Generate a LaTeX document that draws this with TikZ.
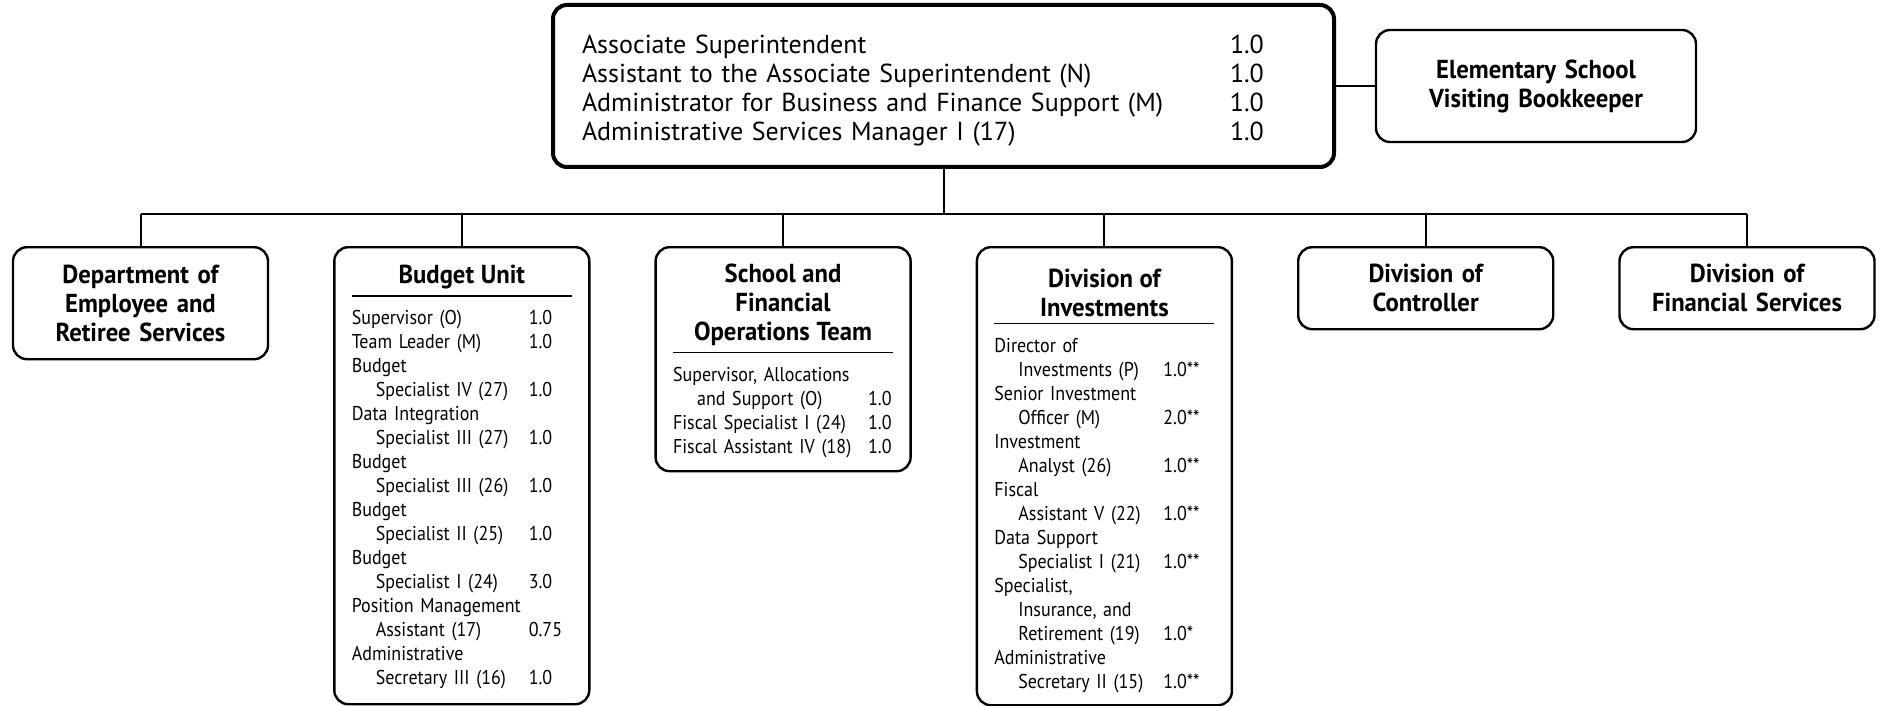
\documentclass[tikz,border=0pt]{standalone}
\usepackage{fontspec}
\setmainfont{PT Sans}
\newfontfamily\listfont{PT Sans}[FakeStretch=0.9]
\newfontfamily\titlefont{PT Sans}[FakeStretch=0.95]
\newlength{\numcol}
\newcommand{\post}[2]{\makebox[\numcol][l]{#1}#2\par}
\newcommand{\subpost}[2]{\makebox[\numcol][l]{\hspace*{12pt}#1}#2\par}
\newcommand{\unithead}[2][-3.6pt]{\par\vspace*{#1}{\centering\titlefont\bfseries\fontsize{13}{14.5}\selectfont #2\par}\vspace{3pt}\hrule height 0.6pt\vspace{7pt}}
\begin{document}
\begin{tikzpicture}[
    x=0.5pt, y=-0.5pt,
    head/.style={draw, line width=2pt, rounded corners=7pt, inner xsep=14.5pt, text width=361.5pt, minimum height=81pt, align=left, font=\fontsize{13}{14.5}\selectfont},
    box/.style={draw, line width=1.2pt, rounded corners=7pt, inner xsep=8.75pt, text width=#1, align=center, font=\titlefont\bfseries\fontsize{13}{14.5}\selectfont},
    box/.default=110pt,
    unit/.style={draw, line width=1.2pt, rounded corners=7pt, anchor=north, inner xsep=8.75pt, text width=110pt, align=left, font=\listfont\fontsize{10}{12}\selectfont},
    link/.style={line width=1pt}
]
\useasboundingbox (0,0) rectangle (1881,706);

% Top office
\node[head] (assoc) at (943.5,86) {\par\vspace*{-1pt}\setlength{\numcol}{324pt}%
\post{Associate Superintendent}{1.0}
\post{Assistant to the Associate Superintendent (N)}{1.0}
\post{Administrator for Business and Finance Support (M)}{1.0}
\post{Administrative Services Manager I (17)}{1.0}};
\node[box=142.5pt, minimum height=56pt] (bookkeeper) at (1536,86) {Elementary School\\Visiting Bookkeeper};

\coordinate (bus) at (0,214);

% Units
\node[box, minimum height=56pt, anchor=north] (retiree) at (140.5,246) {Department of\\Employee and\\Retiree Services};

\node[unit, minimum height=228.5pt] (budget) at (461.8,246) {\setlength{\numcol}{88.5pt}%
\unithead{Budget Unit}
\post{Supervisor (O)}{1.0}
\post{Team Leader (M)}{1.0}
\post{Budget}{}
\subpost{Specialist IV (27)}{1.0}
\post{Data Integration}{}
\subpost{Specialist III (27)}{1.0}
\post{Budget}{}
\subpost{Specialist III (26)}{1.0}
\post{Budget}{}
\subpost{Specialist II (25)}{1.0}
\post{Budget}{}
\subpost{Specialist I (24)}{3.0}
\post{Position Management}{}
\subpost{Assistant (17)}{0.75}
\post{Administrative}{}
\subpost{Secretary III (16)}{1.0}};

\node[unit, minimum height=112pt] (schoolops) at (783.1,246) {\setlength{\numcol}{97.5pt}%
\unithead{School and\\Financial\\Operations Team}
\post{Supervisor, Allocations}{}
\subpost{and Support (O)}{1.0}
\post{Fiscal Specialist I (24)}{1.0}
\post{Fiscal Assistant IV (18)}{1.0}};

\node[unit, minimum height=229pt] (invest) at (1104.4,246) {\setlength{\numcol}{84.5pt}%
\unithead[-0.5pt]{Division of\\Investments}
\post{Director of}{}
\subpost{Investments (P)}{1.0**}
\post{Senior Investment}{}
\subpost{Officer (M)}{2.0**}
\post{Investment}{}
\subpost{Analyst (26)}{1.0**}
\post{Fiscal}{}
\subpost{Assistant V (22)}{1.0**}
\post{Data Support}{}
\subpost{Specialist I (21)}{1.0**}
\post{Specialist,}{}
\subpost{Insurance, and}{}
\subpost{Retirement (19)}{1.0*}
\post{Administrative}{}
\subpost{Secretary II (15)}{1.0**}};

\node[box, minimum height=41pt, anchor=north] (controller) at (1425.7,246) {Division of\\Controller};
\node[box, minimum height=41pt, anchor=north] (finserv) at (1747,246) {Division of\\Financial Services};

% Connectors
\draw[link] (assoc) -- (bookkeeper);
\draw[link] (assoc.south) -- (assoc.south |- bus);
\draw[link] (retiree.north |- bus) -- (finserv.north |- bus);
\foreach \u in {retiree,budget,schoolops,invest,controller,finserv}
  \draw[link] (\u.north) -- (\u.north |- bus);
\end{tikzpicture}
\end{document}
